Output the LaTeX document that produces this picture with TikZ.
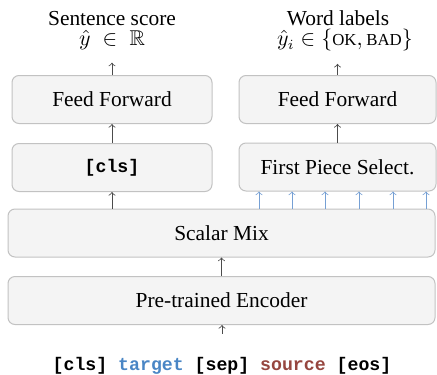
\documentclass[tikz,border=0pt]{standalone}
\usepackage{amssymb}
\usepackage{fontspec}
\setmainfont{Liberation Serif}
\setmonofont{Liberation Mono}
\usetikzlibrary{positioning}
\definecolor{tgtblue}{RGB}{74,134,197}
\definecolor{srcred}{RGB}{150,70,63}
\definecolor{wordarrow}{RGB}{118,160,212}
\tikzset{
  block/.style={draw=gray!48, fill=gray!9, rounded corners=3.5pt, line width=0.5pt,
    minimum height=24pt, inner sep=0pt},
  flow/.style={->, black!70, line width=0.4pt},
  tok/.style={font=\fontsize{9.1}{11}\selectfont\ttfamily\bfseries},
  title/.style={anchor=base, inner sep=0pt}
}
\newcommand{\smallcap}[1]{\mbox{\fontsize{8.4}{10}\selectfont #1}}
\begin{document}
\begin{tikzpicture}[x=0.5pt, y=-0.5pt, font=\fontsize{10.7}{12.8}\selectfont]
    \useasboundingbox (0,0) rectangle (437,374);
    % shared encoder
    \node[block, minimum width=213.5pt] (enc) at (221.5,300.5) {Pre-trained Encoder};
    \node[block, minimum width=213.5pt] (mix) at (221.5,233) {Scalar Mix};
    % sentence-level head
    \node[block, tok, minimum width=100pt] (cls) at (112,167.5) {[cls]};
    \node[block, minimum width=100pt] (ffl) at (112,99.5) {Feed Forward};
    % word-level head
    \node[block, minimum width=98.5pt] (sel) at (337.5,167) {First Piece Select.};
    \node[block, minimum width=98.5pt] (ffr) at (337.5,99.5) {Feed Forward};
    % outputs
    \node[title] (lname) at (112,25.5) {Sentence score};
    \node[title] (lout) at (112,46) {$\hat{y} \;\in\; \mathbb{R}$};
    \node[title] (rname) at (338,25.5) {Word labels};
    \node[title] (rout) at (345,46) {$\hat{y}_i \in \{\smallcap{OK}, \smallcap{BAD}\}$};
    % input sequence
    \node[tok, anchor=base] (tokens) at (222,370)
        {[cls] \textcolor{tgtblue}{target} [sep] \textcolor{srcred}{source} [eos]};

    \draw[flow, shorten <=8pt] (tokens) -- (tokens |- enc.south);
    \draw[flow] (enc) -- (mix);
    \draw[flow] (mix.north -| cls) -- (cls);
    \foreach \x in {259,292,325,359,393,426}
        \draw[flow, wordarrow] (mix.north -| \x,0) -- (sel.south -| \x,0);
    \draw[flow] (cls) -- (ffl);
    \draw[flow] (sel) -- (ffr);
    \draw[flow, shorten >=6pt] (ffl) -- (lout);
    \draw[flow, shorten >=6pt] (ffr.north) -- (ffr.north |- rout.south);
\end{tikzpicture}
\end{document}
